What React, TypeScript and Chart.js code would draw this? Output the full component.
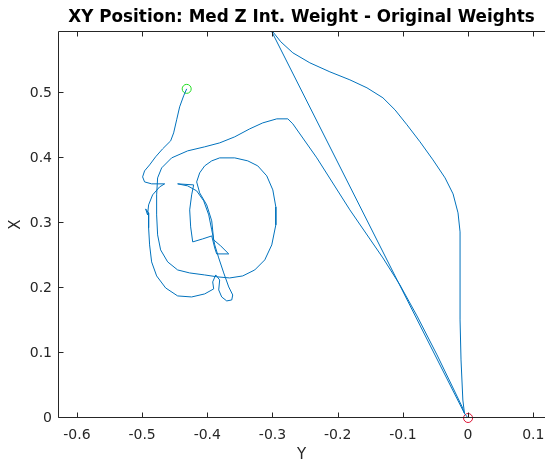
import React, { useEffect, useRef } from 'react';
import { Chart, registerables } from 'chart.js';

Chart.register(...registerables);

// Horizontal axis is labelled "Y", vertical axis is labelled "X"
const posY: number[] = [
  -0.4316, -0.4363, -0.4424, -0.4470, -0.4516, -0.4562, -0.4685, -0.4793, -0.4885, -0.4962,
  -0.4992, -0.4962, -0.4854, -0.4654,
  -0.4731, -0.4839, -0.4900, -0.4916, -0.4946, -0.4900, -0.4900, -0.4885, -0.4854, -0.4777,
  -0.4639, -0.4455, -0.4240, -0.4040, -0.3902,
  -0.3917, -0.3871, -0.3810, -0.3825, -0.3779, -0.3702, -0.3625, -0.3610, -0.3671, -0.3748,
  -0.3825, -0.3886, -0.3932, -0.3978, -0.4055, -0.4163, -0.4301, -0.4455, -0.4209,
  -0.4240, -0.4270, -0.4255, -0.4224, -0.4071, -0.3932, -0.3886, -0.3856, -0.3671, -0.3794,
  -0.3902, -0.3932, -0.4009, -0.4117, -0.4163, -0.4117, -0.4040,
  -0.3932, -0.3810, -0.3579, -0.3379, -0.3226, -0.3088, -0.2995, -0.2949, -0.2949, -0.3011,
  -0.3118, -0.3272, -0.3456, -0.3656, -0.3840, -0.4040, -0.4270, -0.4455, -0.4608, -0.4716,
  -0.4762, -0.4777, -0.4777, -0.4762, -0.4700, -0.4547, -0.4301, -0.4040, -0.3810, -0.3579,
  -0.3349, -0.3149, -0.2934, -0.2765, -0.2688, -0.2320, -0.1813, -0.1306, -0.1045, -0.0783,
  -0.0476, -0.0230, -0.0090, -0.0055,
  -0.0080, -0.0108, -0.0123, -0.0123, -0.0123, -0.0154, -0.0230, -0.0353, -0.0538, -0.0737,
  -0.0937, -0.1121, -0.1306, -0.1551, -0.1813, -0.2120, -0.2427, -0.2688, -0.2873, -0.2995,
  -0.3072,
  -0.0055, 0.0,
];
const posX: number[] = [
  0.5069, 0.4961, 0.4792, 0.4592, 0.4391, 0.4268, 0.4145, 0.4022, 0.3898, 0.3806,
  0.3713, 0.3636, 0.3606, 0.3606,
  0.3559, 0.3436, 0.3282, 0.3128, 0.3220, 0.3159, 0.2928, 0.2666, 0.2404, 0.2188,
  0.2003, 0.1880, 0.1864, 0.1911, 0.1988,
  0.2096, 0.2203, 0.2126, 0.1972, 0.1864, 0.1803, 0.1818, 0.1895, 0.2018, 0.2234,
  0.2465, 0.2666, 0.2897, 0.3128, 0.3344, 0.3498, 0.3575, 0.3606, 0.3590,
  0.3436, 0.3205, 0.2943, 0.2712, 0.2758, 0.2804, 0.2619, 0.2527, 0.2527, 0.2650,
  0.2743, 0.3036, 0.3282, 0.3467, 0.3636, 0.3775, 0.3883,
  0.3960, 0.4006, 0.4006, 0.3960, 0.3883, 0.3729, 0.3513, 0.3251, 0.2974, 0.2666,
  0.2435, 0.2280, 0.2188, 0.2157, 0.2173, 0.2203, 0.2234, 0.2280, 0.2404, 0.2589,
  0.2820, 0.3128, 0.3436, 0.3698, 0.3852, 0.4006, 0.4114, 0.4176, 0.4237, 0.4330,
  0.4453, 0.4545, 0.4607, 0.4607, 0.4530, 0.4006, 0.3205, 0.2465, 0.2049, 0.1572,
  0.0971, 0.0462, 0.0170, 0.0070,
  0.0277, 0.0894, 0.1510, 0.2280, 0.2866, 0.3159, 0.3451, 0.3698, 0.3975, 0.4253,
  0.4515, 0.4746, 0.4931, 0.5085, 0.5208, 0.5331, 0.5470, 0.5624, 0.5794, 0.5948,
  0.6071,
  0.0070, 0.0,
];

const horizTicks: number[] = [-0.6, -0.5, -0.4, -0.3, -0.2, -0.1, 0, 0.1];
const vertTicks: number[] = [0, 0.1, 0.2, 0.3, 0.4, 0.5];
const horizRange: number[] = [-0.629, 0.118];
const vertRange: number[] = [0, 0.596];

const titleText = 'XY Position: Med Z Int. Weight - Original Weights';
const horizLabel = 'Y';
const vertLabel = 'X';

const LINE = '#0072BD';
const AXIS = '#262626';
const FONT = 'DejaVu Sans';

const fmt = (v: number | string) => {
  const n = Math.round(Number(v) * 10) / 10;
  return n === 0 ? '0' : String(n);
};

const boxPlugin = {
  id: 'matlabBox',
  afterDatasetsDraw(chart: any) {
    const { ctx, chartArea } = chart;
    const { left, right, top, bottom } = chartArea;
    const xs = chart.scales.x;
    const ys = chart.scales.y;
    const L = Math.round(left) + 0.5;
    const B = Math.round(bottom) - 0.5;
    const T = Math.round(top) + 0.5;
    const tick = 5;
    ctx.save();
    ctx.strokeStyle = AXIS;
    ctx.lineWidth = 1;
    ctx.beginPath();
    ctx.moveTo(L, T);
    ctx.lineTo(L, B);
    ctx.lineTo(right, B);
    ctx.moveTo(L, T);
    ctx.lineTo(right, T);
    horizTicks.forEach((v) => {
      const px = Math.round(xs.getPixelForValue(v)) + 0.5;
      ctx.moveTo(px, B);
      ctx.lineTo(px, B - tick);
      ctx.moveTo(px, T);
      ctx.lineTo(px, T + tick);
    });
    vertTicks.forEach((v) => {
      const py = Math.round(ys.getPixelForValue(v)) - 0.5;
      ctx.moveTo(L, py);
      ctx.lineTo(L + tick, py);
    });
    ctx.stroke();
    ctx.restore();
  },
};

export default function App() {
  const ref = useRef<HTMLCanvasElement | null>(null);
  useEffect(() => {
    if (!ref.current) return;
    const pts = posY.map((v, i) => ({ x: v, y: posX[i] }));
    const chart = new Chart(ref.current, {
      type: 'scatter',
      data: {
        datasets: [
          {
            data: pts,
            showLine: true,
            borderColor: LINE,
            borderWidth: 1,
            pointRadius: 0,
            tension: 0,
            fill: false,
          },
          {
            data: [pts[0]],
            showLine: false,
            clip: false,
            pointRadius: 4.5,
            pointBorderColor: '#22dd22',
            pointBackgroundColor: 'rgba(0,0,0,0)',
            pointBorderWidth: 1,
          },
          {
            data: [pts[pts.length - 1]],
            showLine: false,
            clip: false,
            pointRadius: 4.5,
            pointBorderColor: '#dd1133',
            pointBackgroundColor: 'rgba(0,0,0,0)',
            pointBorderWidth: 1,
          },
        ],
      },
      options: {
        responsive: false,
        animation: false,
        devicePixelRatio: 1,
        events: [],
        layout: { autoPadding: false, padding: { left: 0, right: 0, top: 0, bottom: 0 } },
        plugins: {
          legend: { display: false },
          tooltip: { enabled: false },
          title: {
            display: true,
            text: titleText,
            color: '#000000',
            fullSize: false,
            font: { family: FONT, size: 16.8, weight: 'bold', lineHeight: 1.2 },
            padding: { top: 8, bottom: 2.84 },
          },
        },
        scales: {
          x: {
            type: 'linear',
            min: horizRange[0],
            max: horizRange[1],
            afterBuildTicks: (s: any) => {
              s.ticks = horizTicks.map((v) => ({ value: v }));
            },
            afterFit: (s: any) => {
              s.height = 46;
              s.paddingLeft = 0;
              s.paddingRight = 0;
            },
            grid: { display: false, drawTicks: false },
            border: { display: false },
            ticks: {
              color: AXIS,
              font: { family: FONT, size: 14 },
              padding: 9,
              maxRotation: 0,
              autoSkip: false,
              callback: fmt,
            },
            title: {
              display: true,
              text: horizLabel,
              color: AXIS,
              font: { family: FONT, size: 15 },
              padding: { top: 0, bottom: 0 },
            },
          },
          y: {
            type: 'linear',
            min: vertRange[0],
            max: vertRange[1],
            afterBuildTicks: (s: any) => {
              s.ticks = vertTicks.map((v) => ({ value: v }));
            },
            afterFit: (s: any) => {
              s.width = 58;
              s.paddingTop = 0;
              s.paddingBottom = 0;
            },
            grid: { display: false, drawTicks: false },
            border: { display: false },
            ticks: {
              color: AXIS,
              font: { family: FONT, size: 14 },
              padding: 6,
              autoSkip: false,
              callback: fmt,
            },
            title: {
              display: true,
              text: vertLabel,
              color: AXIS,
              font: { family: FONT, size: 15 },
              padding: { top: 7, bottom: 0 },
            },
          },
        },
      },
      plugins: [boxPlugin],
    });
    return () => chart.destroy();
  }, []);
  return (
    <div style={{ position: 'absolute', left: 0, top: 0, width: 545, height: 464, background: '#ffffff' }}>
      <canvas ref={ref} width={545} height={464} style={{ display: 'block' }} />
    </div>
  );
}
